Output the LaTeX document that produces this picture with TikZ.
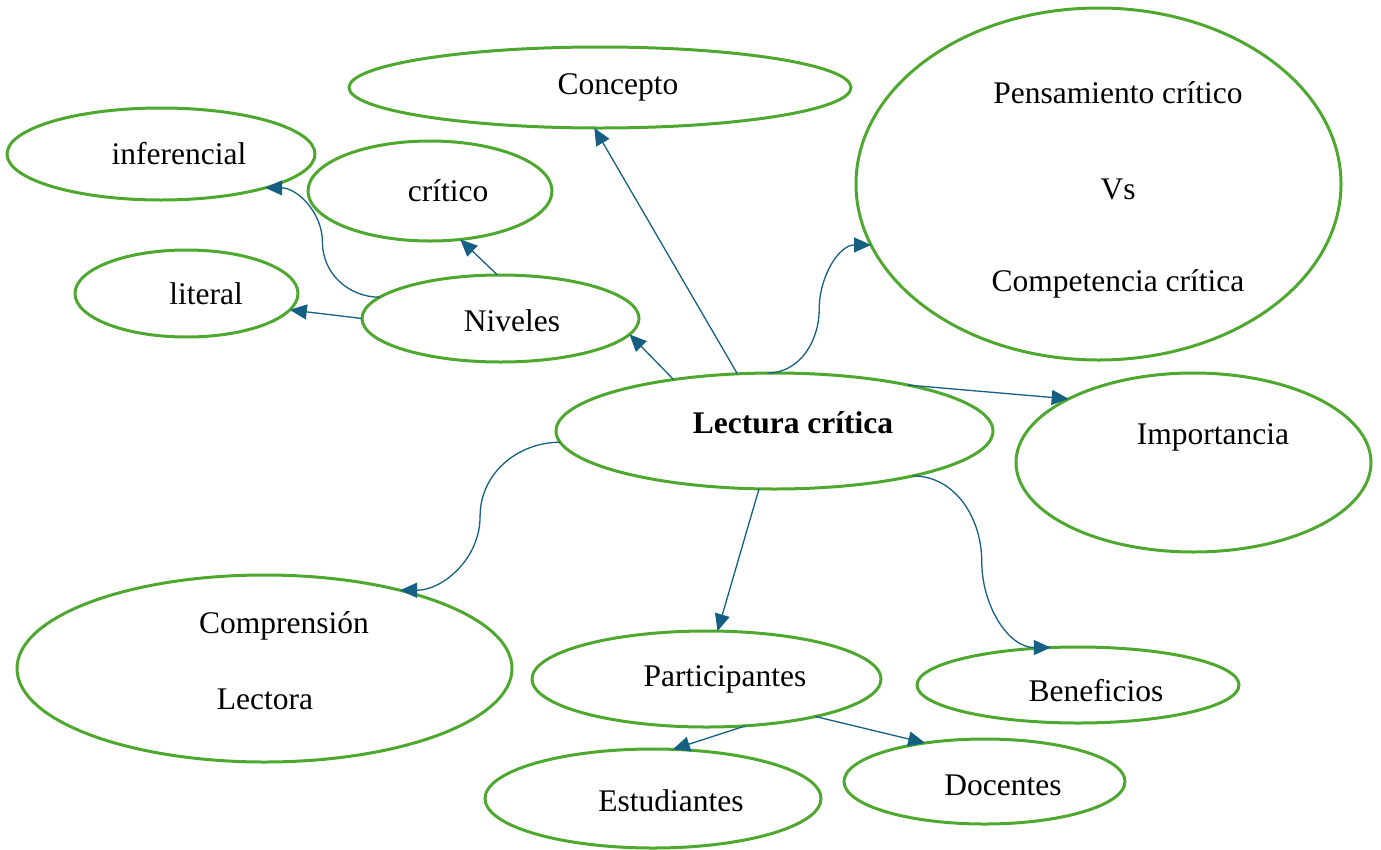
\documentclass[tikz,border=0pt]{standalone}
\usepackage{fontspec}
\setmainfont{Liberation Serif}
\usetikzlibrary{shapes.geometric,arrows.meta,calc}
\definecolor{egreen}{HTML}{4EA72E}
\definecolor{ablue}{HTML}{156082}
\tikzset{
  ell/.style={ellipse,draw=egreen,line width=3pt,inner sep=0pt,outer sep=0pt},
  txt/.style={font=\fontsize{31.5}{38}\selectfont,inner sep=0pt,text=black},
  conn/.style={draw=ablue,line width=1.3pt,-{Triangle[length=17pt,width=15pt]}}
}
\begin{document}
\begin{tikzpicture}[x=1pt,y=-1pt]
\useasboundingbox (0,0) rectangle (1381,849);
% ellipses
\node[ell,minimum width=502pt,minimum height=81pt] (con) at (600,87.5) {};
\node[ell,minimum width=485pt,minimum height=352pt] (pen) at (1098.5,184) {};
\node[ell,minimum width=308pt,minimum height=92pt] (inf) at (161,154) {};
\node[ell,minimum width=244pt,minimum height=100pt] (cri) at (430,191) {};
\node[ell,minimum width=223pt,minimum height=87pt] (lit) at (186.5,293.5) {};
\node[ell,minimum width=277pt,minimum height=87pt] (niv) at (500.5,318.5) {};
\node[ell,minimum width=437pt,minimum height=116pt] (lc) at (774.5,431) {};
\node[ell,minimum width=355pt,minimum height=179pt] (imp) at (1193.5,462.5) {};
\node[ell,minimum width=495pt,minimum height=187pt] (com) at (264.5,668.5) {};
\node[ell,minimum width=349pt,minimum height=96pt] (par) at (706.5,679) {};
\node[ell,minimum width=322pt,minimum height=76pt] (ben) at (1078,685) {};
\node[ell,minimum width=336pt,minimum height=99pt] (est) at (653,798.5) {};
\node[ell,minimum width=281pt,minimum height=85pt] (doc) at (984.5,781.5) {};
% texts
\node[txt] (tcon) at (618,87) {Concepto};
\node[txt] (tpen1) at (1118,93) {Pensamiento crítico};
\node[txt] (tpen2) at (1118,189) {Vs};
\node[txt] (tpen3) at (1118,284) {Competencia crítica};
\node[txt] (tinf) at (179,154) {inferencial};
\node[txt] (tcri) at (448,191) {crítico};
\node[txt] (tlit) at (206,294) {literal};
\node[txt] (tniv) at (512,321) {Niveles};
\node[txt,font=\fontsize{31.5}{38}\selectfont\bfseries] (tlc) at (793,423) {Lectura crítica};
\node[txt] (timp) at (1213,437) {Importancia};
\node[txt] (tcom1) at (284,626) {Comprensión};
\node[txt] (tcom2) at (265,699) {Lectora};
\node[txt] (tpar) at (725,679) {Participantes};
\node[txt] (tben) at (1096,691) {Beneficios};
\node[txt] (test) at (671,801) {Estudiantes};
\node[txt] (tdoc) at (1003,785) {Docentes};
% connectors
\draw[conn] (lc.123.8) -- (con.262);
\draw[conn] (lc.97.4) to[out=0,in=270] ($(lc.97.4)!0.5!(pen.195.6)$) to[out=90,in=180] (pen.195.6);
\draw[conn] (lc.153.3) -- (niv.353);
\draw[conn] (lc.19.4) -- (imp.153.5);
\draw[conn] (lc.183.7) to[out=180,in=90] ($(lc.183.7)!0.5!(com.30.7)$) to[out=270,in=0] (com.30.7);
\draw[conn] (lc.255) -- (par.77.5);
\draw[conn] (lc.342.2) to[out=0,in=90] ($(lc.342.2)!0.5!(ben.126.9)$) to[out=270,in=180] (ben.126.9);
\draw[conn] (niv.94.6) -- (cri.302.6);
\draw[conn] (niv.180) -- (lit.351.4);
\draw[conn] (niv.170.4) to[out=180,in=270] ($(niv.170.4)!0.5!(inf.342.6)$) to[out=90,in=0] (inf.342.6);
\draw[conn] (par.310.7) -- (est.68);
\draw[conn] (par.341.3) -- (doc.147.8);
\end{tikzpicture}
\end{document}
